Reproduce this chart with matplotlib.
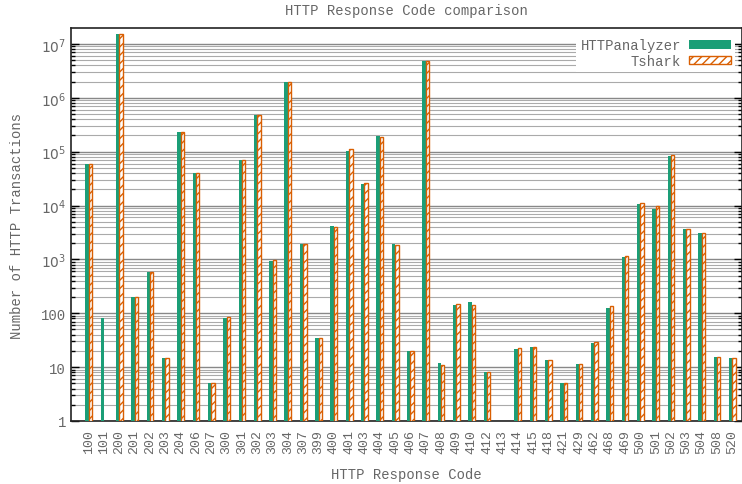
import numpy as np
import matplotlib
matplotlib.use('Agg')
import matplotlib.pyplot as plt
from matplotlib.ticker import LogLocator, FixedLocator, FixedFormatter

codes = ['100', '101', '200', '201', '202', '203', '204', '206', '207', '300',
         '301', '302', '303', '304', '307', '399', '400', '401', '403', '404',
         '405', '406', '407', '408', '409', '410', '412', '413', '414', '415',
         '418', '421', '429', '462', '468', '469', '500', '501', '502', '503',
         '504', '508', '520']

httpanalyzer = [60000, 80, 1.5e7, 200, 580, 15, 232000, 41000, 5, 82,
                70000, 480000, 950, 2.0e6, 1900, 35, 4200, 104000, 24800, 192000,
                1900, 20, 4.8e6, 12, 142, 162, 8, 0, 21.5, 23.5,
                13.5, 5, 11.4, 28.5, 125, 1090, 10900, 8800, 84000, 3600,
                3120, 15.5, 14.5]
tshark = [60000, 0, 1.52e7, 200, 580, 15, 235000, 41000, 5, 84,
          71000, 480000, 960, 2.0e6, 1900, 35, 4000, 110000, 25900, 184000,
          1850, 20, 4.8e6, 11, 147, 145, 8, 0, 22.5, 23.5,
          13.5, 5, 11.4, 29.9, 138, 1160, 11000, 10000, 86000, 3600,
          3150, 15.5, 14.6]

plt.rcParams['font.family'] = ['Liberation Mono', 'DejaVu Sans Mono']
plt.rcParams['font.size'] = 10
plt.rcParams['hatch.color'] = '#d95f02'
plt.rcParams['hatch.linewidth'] = 1.0
txt = '#666666'

fig = plt.figure(figsize=(7.42, 4.85), dpi=100)
ax = fig.add_axes([71 / 742, 63 / 485, 670.5 / 742, 393 / 485])

x = np.arange(len(codes))
w = 0.22
ha = np.array(httpanalyzer, dtype=float)
ts = np.array(tshark, dtype=float)
ha[ha <= 0] = np.nan
ts[ts <= 0] = np.nan
ax.bar(x - w / 2, ha, w, bottom=0, color='#1b9e77', linewidth=0, label='HTTPanalyzer', zorder=3)
ax.bar(x + w / 2, ts, w, bottom=0, facecolor='white', edgecolor='#d95f02', hatch='////',
       linewidth=1.0, label='Tshark', zorder=3)

ax.set_yscale('log')
ax.set_ylim(1, 10 ** (7 + 16 / 54))
ax.set_xlim(-1.15, 42.6)

ax.yaxis.set_major_locator(FixedLocator([1, 10, 100, 1e3, 1e4, 1e5, 1e6, 1e7]))
ax.yaxis.set_major_formatter(FixedFormatter(['1', '10', '100', r'$10^3$', r'$10^4$',
                                             r'$10^5$', r'$10^6$', r'$10^7$']))
ax.yaxis.set_minor_locator(LogLocator(base=10, subs=np.arange(2, 10), numticks=20))
ax.yaxis.set_minor_formatter(plt.NullFormatter())
ax.grid(True, which='major', axis='y', color='#888888', linewidth=1.0, zorder=0)
ax.grid(True, which='minor', axis='y', color='#aaaaaa', linewidth=0.8, zorder=0)
ax.set_axisbelow(True)
ax.tick_params(axis='y', which='major', direction='in', length=6, width=1, right=True,
               labelcolor=txt, labelsize=10)
ax.tick_params(axis='y', which='minor', direction='in', length=3, width=1, right=True)

ax.set_xticks(x)
ax.set_xticklabels(codes, rotation=90, color=txt, fontsize=9.5)
ax.tick_params(axis='x', length=0, pad=6)

for s in ['left', 'top', 'bottom', 'right']:
    ax.spines[s].set_linewidth(1.2)
    ax.spines[s].set_color('#222222')

ax.set_title('HTTP Response Code comparison', color=txt, fontsize=10, pad=10)
ax.set_xlabel('HTTP Response Code', color=txt, fontsize=10, labelpad=10)
ax.set_ylabel('Number of HTTP Transactions', color=txt, fontsize=10, labelpad=12)

leg = ax.legend(loc='upper right', markerfirst=False, frameon=True, fancybox=False,
                edgecolor='none', framealpha=1.0, handlelength=3.0, handleheight=0.55,
                handletextpad=0.6, labelspacing=0.1, borderaxespad=0.45,
                borderpad=0.3, fontsize=10)
for t in leg.get_texts():
    t.set_color(txt)
leg.set_zorder(5)

fig.savefig('out.png', dpi=100)
